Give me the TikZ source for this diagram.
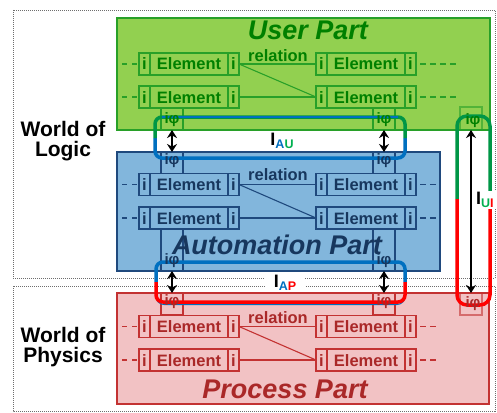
\documentclass[tikz,border=0pt]{standalone}
\usepackage{fontspec}
\setmainfont{Liberation Sans}
\usetikzlibrary{arrows.meta}
\definecolor{gfill}{RGB}{146,208,80}
\definecolor{gline}{RGB}{40,160,40}
\definecolor{gtext}{RGB}{0,128,0}
\definecolor{bfill}{RGB}{130,182,220}
\definecolor{bline}{RGB}{31,73,125}
\definecolor{btext}{RGB}{23,55,94}
\definecolor{rfill}{RGB}{242,194,196}
\definecolor{rline}{RGB}{195,50,50}
\definecolor{rtext}{RGB}{170,40,40}
\definecolor{lgreen}{RGB}{0,150,70}
\definecolor{lblue}{RGB}{0,112,192}
\definecolor{lred}{RGB}{255,0,0}
\definecolor{sgreen}{RGB}{0,176,80}
\definecolor{framegray}{RGB}{110,110,110}
\newcommand\elemrow[4]{%
  \node[icell=#4] (#1a) at (#2,#3) {i};
  \node[ecell=#4] (#1b) at (#1a.east) {Element};
  \node[icell=#4] (#1c) at (#1b.east) {i};}
\newcommand\partrows[6]{%
  \elemrow{#1L1}{139}{#3}{#2}
  \elemrow{#1L2}{139}{#4}{#2}
  \elemrow{#1R1}{316}{#3}{#2}
  \elemrow{#1R2}{316}{#4}{#2}
  \coordinate (#1L1w) at (122,#3);
  \coordinate (#1L2w) at (122,#4);
  \coordinate (#1R1e) at (#5,#3);
  \coordinate (#1R2e) at (#5,#4);
  \draw[dsh=#2] (#1L1w) -- (#1L1a.west);
  \draw[dsh=#2] (#1L2w) -- (#1L2a.west);
  \draw[dshr=#2] (#1R1c.east) -- (#1R1e);
  \draw[dshr=#2] (#1R2c.east) -- (#1R2e);
  \draw[rel=#2] (#1L1c.east) -- (#1R1a.west);
  \draw[rel=#2] (#1L1c.east) -- (#1R2a.west);
  \draw[rel=#2] (#1L2c.east) -- (#1R2a.west);
  \node[reltext=#2] (#1rel) at (278,#6) {relation};}
\begin{document}
\begin{tikzpicture}[x=1pt,y=-1pt,
  part/.style={draw=#1line, fill=#1fill, line width=1.6pt, inner sep=0pt, outer sep=0pt, anchor=north west},
  cell/.style={draw=#1line, fill=#1fill, line width=1.1pt, inner sep=0pt, outer sep=0pt, minimum height=22pt, text=#1text, font=\fontsize{16.5}{18}\selectfont\bfseries, text height=12pt, text depth=0pt, anchor=west},
  icell/.style={cell=#1, minimum width=11pt},
  ecell/.style={cell=#1, minimum width=78pt},
  phibox/.style={draw=#1line, line width=1.1pt, inner sep=0pt, outer sep=0pt, minimum width=22pt},
  phitext/.style={text=#1text, font=\fontsize{15}{15}\selectfont\bfseries, inner sep=0pt},
  rel/.style={draw=#1line, line width=1.1pt},
  reltext/.style={text=#1text, font=\fontsize{16.5}{18}\selectfont\bfseries, inner sep=0pt},
  dsh/.style={draw=#1line, line width=1.1pt, dash pattern=on 5pt off 5pt},
  dshr/.style={draw=#1line, line width=1.2pt, dash pattern=on 6pt off 4pt, dash phase=6pt},
  ptitle/.style={text=#1text, font=\fontsize{27}{30}\selectfont\bfseries\itshape, inner sep=0pt},
  frame/.style={draw=framegray, line width=0.9pt, dash pattern=on 1pt off 1pt},
  loopw/.style={line width=3.5pt},
  dbl/.style={draw=black, line width=2.2pt, {Stealth[length=8pt,width=10pt]}-{Stealth[length=8pt,width=10pt]}},
  lab/.style={fill=white, inner xsep=2pt, inner ysep=1pt, font=\fontsize{18}{18}\selectfont\bfseries},
  world/.style={align=center, font=\fontsize{21}{20}\selectfont\bfseries, inner sep=0pt}
]
\useasboundingbox (0,0) rectangle (497,412);
% world frames
\draw[frame] (13,10) rectangle (495,278);
\draw[frame] (13,286) rectangle (495,411);
\node[world] (wlogic) at (63,141) {World of\\Logic};
\node[world] (wphys) at (63,347) {World of\\Physics};
% parts
\node[part=g, minimum width=373pt, minimum height=112pt] (user) at (117,18) {};
\node[part=b, minimum width=323pt, minimum height=119pt] (autom) at (117,152) {};
\node[part=r, minimum width=372pt, minimum height=111pt] (proc) at (117,293) {};
% i-phi boxes
\node[phibox=g, minimum height=22pt] (gphiL) at (172,119) {};
\node[phibox=g, minimum height=22pt] (gphiR) at (384,119) {};
\node[phibox=g, minimum height=23pt, draw opacity=0.6] (gphiU) at (471,118.5) {};
\node[phibox=b, minimum height=21.5pt] (bphiLt) at (172,162.75) {};
\node[phibox=b, minimum height=21.5pt] (bphiRt) at (384,162.75) {};
\node[phibox=b, minimum height=42pt] (bphiLb) at (172,250) {};
\node[phibox=b, minimum height=42pt] (bphiRb) at (384,250) {};
\node[phibox=r, minimum height=22pt] (rphiL) at (172,304) {};
\node[phibox=r, minimum height=22pt] (rphiR) at (384,304) {};
\node[phibox=r, minimum height=22pt, draw opacity=0.6] (rphiU) at (471,304) {};
% elements
\partrows{g}{g}{64}{97}{458}{55.5}
\partrows{b}{b}{184.5}{218}{438}{175}
\partrows{r}{r}{326.5}{360}{438}{317.5}
% titles
\node[ptitle=g] (tuser) at (308,30) {User Part};
\node[ptitle=b] (tautom) at (277,245) {Automation Part};
\node[ptitle=r] (tproc) at (285,389.5) {Process Part};
% loops
\draw[loopw, lblue, rounded corners=7pt] (155,138) -- (155,158) -- (405,158) -- (405,138);
\draw[loopw, lgreen, rounded corners=7pt] (155,138) -- (155,117) -- (405,117) -- (405,138);
\draw[lblue, line width=1.4pt] (162,117) -- (398,117);
\draw[loopw, lblue, rounded corners=7pt] (156,282) -- (156,262) -- (405,262) -- (405,282);
\draw[lblue, line width=1pt, rounded corners=8pt] (156,282) -- (156,304.5) -- (405,304.5) -- (405,282);
\draw[loopw, lred, rounded corners=7pt] (156,282) -- (156,302) -- (405,302) -- (405,282);
\draw[loopw, lgreen, rounded corners=10pt] (457,199) -- (457,116) -- (490,116) -- (490,199);
\draw[loopw, lred, rounded corners=10pt] (457,199) -- (457,305) -- (490,305) -- (490,199);
% arrows
\draw[dbl] (gphiL.south) -- (bphiLt.north);
\draw[dbl] (gphiR.south) -- (bphiRt.north);
\draw[dbl] (bphiLb.south) -- (rphiL.north);
\draw[dbl] (bphiRb.south) -- (rphiR.north);
\draw[dbl] (gphiU.south) -- (rphiU.north);
% i-phi texts
\node[phitext=g] at (172,120) {iφ};
\node[phitext=g] at (384,120) {iφ};
\node[phitext=g] at (473,121) {iφ};
\node[phitext=b] at (172,161) {iφ};
\node[phitext=b] at (384,161) {iφ};
\node[phitext=b] at (172,261) {iφ};
\node[phitext=b] at (384,261) {iφ};
\node[phitext=r] at (172,302) {iφ};
\node[phitext=r] at (384,302) {iφ};
\node[phitext=r] at (473,304) {iφ};
% interface labels
\node[lab] (iau) at (282,141) {I\raisebox{-3.5pt}{\fontsize{12.5}{12.5}\selectfont\textcolor{lblue}{A}\textcolor{sgreen}{U}}};
\node[lab, inner xsep=9pt] (iap) at (285,283) {I\raisebox{-3.5pt}{\fontsize{12.5}{12.5}\selectfont\textcolor{lblue}{A}\textcolor{lred}{P}}};
\node[lab, anchor=west] (iui) at (474,200) {I\raisebox{-3.5pt}{\fontsize{12.5}{12.5}\selectfont\textcolor{sgreen}{U}\textcolor{lred}{I}}};
\end{tikzpicture}
\end{document}
